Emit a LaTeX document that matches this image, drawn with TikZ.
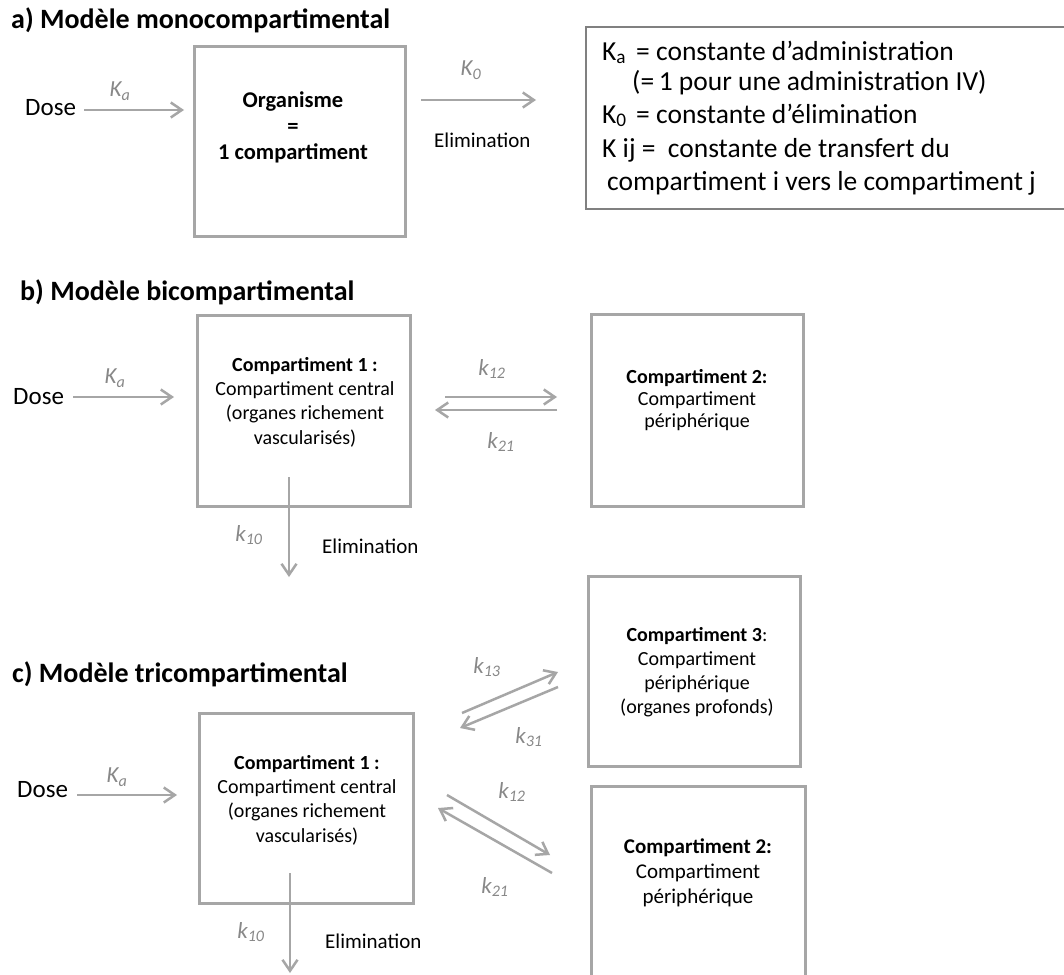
\documentclass[tikz,border=0pt]{standalone}
\usepackage{fontspec}
\setmainfont{Carlito}
\usetikzlibrary{arrows.meta}
\definecolor{boxgray}{HTML}{A6A6A6}
\definecolor{labgray}{HTML}{888888}
\definecolor{leggray}{HTML}{808080}
\begin{document}
\begin{tikzpicture}[x=1pt,y=-1pt,
  comp/.style={draw=boxgray,line width=3pt,inner sep=0pt,minimum width=213pt,minimum height=191pt},
  flow/.style={draw=boxgray,line width=2.5pt,-{Straight Barb[length=11pt,width=15pt]}},
  klab/.style={text=labgray,font=\fontsize{23}{26}\selectfont\itshape,inner sep=0pt},
  ttl/.style={font=\fontsize{28}{31}\selectfont\bfseries,anchor=base west,inner sep=0pt},
  dosetxt/.style={font=\fontsize{25}{28}\selectfont,anchor=base west,inner sep=0pt},
  elim/.style={font=\fontsize{21}{24}\selectfont,anchor=base west,inner sep=0pt},
  boxtxt/.style={font=\fontsize{20}{24.3}\selectfont,align=center,inner sep=0pt},
  legtxt/.style={font=\fontsize{27.5}{31}\selectfont,anchor=base west,inner sep=0pt}
]
\clip (0,0) rectangle (1064,974);
\fill[white] (0,0) rectangle (1064,974);

% ---------- a) ----------
\node[ttl] (tA) at (11,29) {a) Modèle monocompartimental};
\node[comp,minimum width=211pt,minimum height=190pt] (boxA) at (300,141.5) {};
\node[dosetxt] (doseA) at (25,115) {Dose};
\coordinate (a1) at (84,110); \coordinate (a2) at (184,110);
\draw[flow] (a1) -- (a2);
\node[klab] (kaA) at (120,91) {K\textsubscript{a}};
\node[boxtxt,font=\fontsize{22.5}{26}\selectfont\bfseries] (orgA) at (293,127) {Organisme\\=\\1 compartiment};
\coordinate (a3) at (421,100); \coordinate (a4) at (536,100);
\draw[flow] (a3) -- (a4);
\node[klab] (k0A) at (471,70) {K\textsubscript{0}};
\node[elim] (elA) at (434,147) {Elimination};

% legend
\node[draw=leggray,line width=2.5pt,inner sep=0pt,minimum width=513pt,minimum height=182pt] (leg) at (842.5,118) {};
\node[legtxt] (l1a) at (602,60) {K\textsubscript{a}};
\node[legtxt] (l1b) at (636,60) {= constante d’administration};
\node[legtxt] (l2) at (632,90) {(=\,1 pour une administration IV)};
\node[legtxt] (l3a) at (602,123) {K\textsubscript{0}};
\node[legtxt] (l3b) at (636,123) {= constante d’élimination};
\node[legtxt] (l4) at (602,157) {K ij =\ \ constante de transfert du};
\node[legtxt] (l5) at (607,190) {compartiment i vers le compartiment j};

% ---------- b) ----------
\node[ttl] (tB) at (20,300) {b) Modèle bicompartimental};
\node[comp] (b1) at (304,411) {};
\node[comp,minimum width=212pt,minimum height=192pt] (b2) at (697.5,410.5) {};
\node[dosetxt] (doseB) at (13,404) {Dose};
\coordinate (b3) at (73,397); \coordinate (b4) at (174,397);
\draw[flow] (b3) -- (b4);
\node[klab] (kaB) at (115,378) {K\textsubscript{a}};
\node[boxtxt] (b1t) at (305,402) {{\bfseries Compartiment 1 :}\\Compartiment central\\(organes richement\\vascularisés)};
\node[boxtxt,font=\fontsize{20}{22}\selectfont] (b2t) at (697,400) {{\bfseries Compartiment 2:}\\Compartiment\\périphérique};
\coordinate (b5) at (445,397); \coordinate (b6) at (557,397);
\coordinate (b7) at (557,410); \coordinate (b8) at (435,410);
\draw[flow] (b5) -- (b6);
\draw[flow] (b7) -- (b8);
\node[klab] (k12B) at (492,369) {k\textsubscript{12}};
\node[klab] (k21B) at (501,442) {k\textsubscript{21}};
\coordinate (b9) at (289,477); \coordinate (b10) at (289,577);
\draw[flow] (b9) -- (b10);
\node[klab] (k10B) at (249,535) {k\textsubscript{10}};
\node[elim] (elB) at (322,553) {Elimination};

% ---------- c) ----------
\node[ttl] (tC) at (12,682) {c) Modèle tricompartimental};
\node[comp,minimum width=214pt,minimum height=190pt] (c1) at (306.5,808.5) {};
\node[comp,minimum width=212pt,minimum height=190pt] (c3) at (694.5,671.5) {};
\node[comp,minimum width=214pt,minimum height=222pt] (c2) at (698.5,897.5) {};
\node[dosetxt] (doseC) at (17,797) {Dose};
\coordinate (c4) at (77,795); \coordinate (c5) at (177,795);
\draw[flow] (c4) -- (c5);
\node[klab] (kaC) at (117,777) {K\textsubscript{a}};
\node[boxtxt] (c1t) at (307,800) {{\bfseries Compartiment 1 :}\\Compartiment central\\(organes richement\\vascularisés)};
\node[boxtxt,font=\fontsize{20}{24}\selectfont] (c3t) at (697,672) {{\bfseries Compartiment 3}:\\Compartiment\\périphérique\\(organes profonds)};
\node[boxtxt,font=\fontsize{21}{25}\selectfont] (c2t) at (698,873) {{\bfseries Compartiment 2:}\\Compartiment\\périphérique};
\coordinate (c6) at (462,713); \coordinate (c7) at (558,672);
\coordinate (c8) at (558,687); \coordinate (c9) at (460,728);
\draw[flow] (c6) -- (c7);
\draw[flow] (c8) -- (c9);
\node[klab] (k13C) at (487,667) {k\textsubscript{13}};
\node[klab] (k31C) at (529,737) {k\textsubscript{31}};
\coordinate (c10) at (447,795); \coordinate (c11) at (550,855);
\coordinate (c12) at (552,873); \coordinate (c13) at (438,808);
\draw[flow] (c10) -- (c11);
\draw[flow] (c12) -- (c13);
\node[klab] (k12C) at (512,792) {k\textsubscript{12}};
\node[klab] (k21C) at (495,887) {k\textsubscript{21}};
\coordinate (c14) at (290,873); \coordinate (c15) at (290,973);
\draw[flow] (c14) -- (c15);
\node[klab] (k10C) at (251,932) {k\textsubscript{10}};
\node[elim] (elC) at (325,948) {Elimination};
\end{tikzpicture}
\end{document}
